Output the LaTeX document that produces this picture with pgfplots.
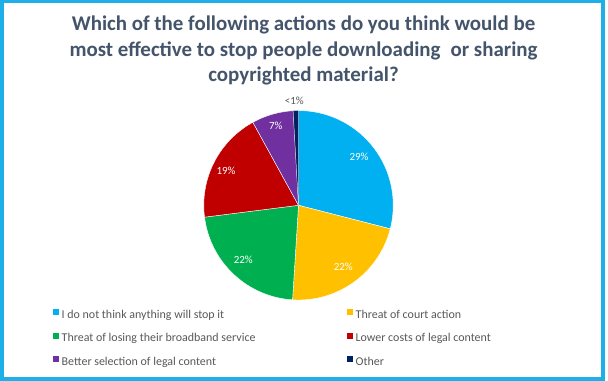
\documentclass[border=0pt]{standalone}
\usepackage{pgfplots}
\pgfplotsset{compat=1.18}
\usepackage{fontspec}
\setmainfont{Carlito}
\definecolor{cBlue}{HTML}{00B0F0}
\definecolor{cYellow}{HTML}{FFC000}
\definecolor{cGreen}{HTML}{00B050}
\definecolor{cRed}{HTML}{C00000}
\definecolor{cPurple}{HTML}{7030A0}
\definecolor{cNavy}{HTML}{002060}
\definecolor{cFrame}{HTML}{1EAEE8}
\definecolor{cTitle}{HTML}{44546A}
\definecolor{cText}{HTML}{595959}
\begin{document}
\begin{tikzpicture}
\useasboundingbox (0,0) rectangle (608bp,381bp);
\fill[white] (0,0) rectangle (608bp,381bp);
\begin{axis}[
  at={(0,0)}, anchor=south west,
  width=608bp, height=381bp, scale only axis,
  xmin=0, xmax=608, ymin=0, ymax=381,
  hide axis, clip=false,
  legend columns=2,
  legend cell align=left,
  legend image code/.code={\fill[#1,draw=none] (0bp,0.5bp) rectangle (6bp,6.5bp);},
  legend style={at={(axis cs:52.7,71.5)}, anchor=north west,
    draw=none, fill=none, inner sep=0pt, outer sep=0pt,
    column sep=3bp, row sep=11bp,
    font=\fontsize{12}{14}\selectfont, text=cText,
    nodes={inner sep=0pt, text height=8.5bp, text depth=3.5bp}},
]
% shares in percent (clockwise from 12 o'clock): 29, 22, 22, 19, 7, 1
\addplot[fill=cBlue, draw=white, line width=0.4bp, domain=0:29, samples=60]
  ({298.5+94.7*sin(3.6*x)},{175.7+94.7*cos(3.6*x)}) -- (298.5,175.7) -- cycle;
\addlegendentry{\makebox[282bp][l]{I do not think anything will stop it}}
\addplot[fill=cYellow, draw=white, line width=0.4bp, domain=29:51, samples=50]
  ({298.5+94.7*sin(3.6*x)},{175.7+94.7*cos(3.6*x)}) -- (298.5,175.7) -- cycle;
\addlegendentry{Threat of court action}
\addplot[fill=cGreen, draw=white, line width=0.4bp, domain=51:73, samples=50]
  ({298.5+94.7*sin(3.6*x)},{175.7+94.7*cos(3.6*x)}) -- (298.5,175.7) -- cycle;
\addlegendentry{\makebox[282bp][l]{Threat of losing their broadband service}}
\addplot[fill=cRed, draw=white, line width=0.4bp, domain=73:92, samples=45]
  ({298.5+94.7*sin(3.6*x)},{175.7+94.7*cos(3.6*x)}) -- (298.5,175.7) -- cycle;
\addlegendentry{Lower costs of legal content}
\addplot[fill=cPurple, draw=white, line width=0.4bp, domain=92:99.1, samples=20]
  ({298.5+94.7*sin(3.6*x)},{175.7+94.7*cos(3.6*x)}) -- (298.5,175.7) -- cycle;
\addlegendentry{\makebox[282bp][l]{Better selection of legal content}}
\addplot[fill=cNavy, draw=white, line width=0.2bp, domain=99.1:100, samples=5]
  ({298.5+94.7*sin(3.6*x)},{175.7+94.7*cos(3.6*x)}) -- (298.5,175.7) -- cycle;
\addlegendentry{Other}
% data labels
\begin{scope}[every node/.style={font=\fontsize{11}{13}\selectfont, text=white, inner sep=0pt}]
\node at (axis cs:359,224.3) {29\%};
\node at (axis cs:343.3,114.3) {22\%};
\node at (axis cs:243.3,121) {22\%};
\node at (axis cs:226,210) {19\%};
\node at (axis cs:275.7,255) {7\%};
\node[text=cText] at (axis cs:294.3,280.3) {<1\%};
\end{scope}
% title
\begin{scope}[every node/.style={font=\fontsize{21}{25}\selectfont\bfseries, text=cTitle, inner sep=0pt, anchor=base}]
\node at (axis cs:303.5,350) {Which of the following actions do you think would be};
\node at (axis cs:303.5,324.5) {most effective to stop people downloading\hspace{0.25em} or sharing};
\node at (axis cs:303.5,299) {copyrighted material?};
\end{scope}
\end{axis}
\draw[cFrame, line width=3.5bp] (1.75bp,2bp) rectangle (603bp,379.5bp);
\end{tikzpicture}
\end{document}
